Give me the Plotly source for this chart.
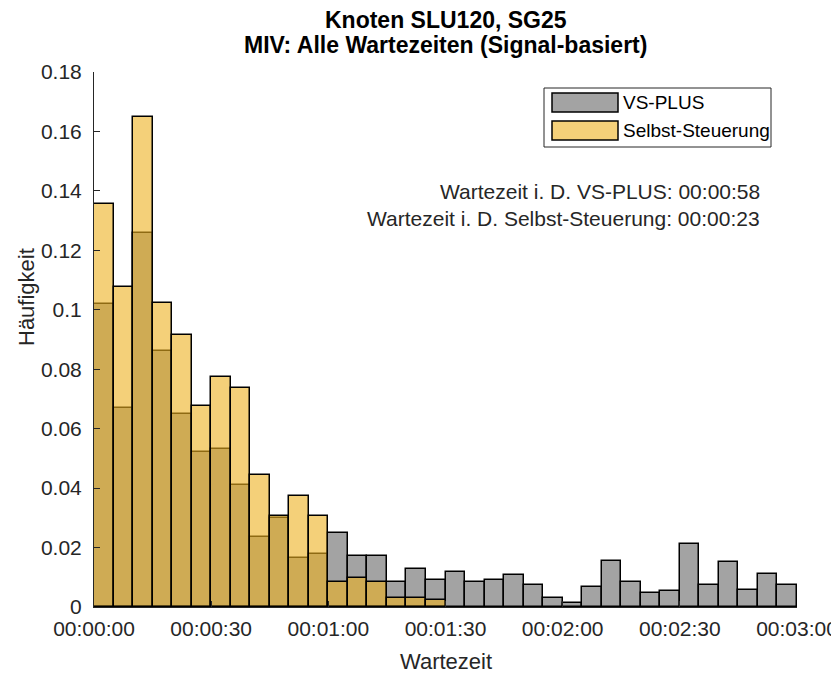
import plotly.graph_objects as go

# ---- data -------------------------------------------------------------
bin_width_s = 5
bin_start_s = list(range(0, 180, 5))  # 36 bins of 5 s

vs_plus = [0.102, 0.067, 0.1257, 0.086, 0.065, 0.052, 0.053, 0.041, 0.0237, 0.030,
           0.0166, 0.0177, 0.025, 0.0172, 0.0172, 0.0085, 0.0128, 0.0091, 0.0118, 0.0085,
           0.0091, 0.0107, 0.0073, 0.0030, 0.0012, 0.0068, 0.0156, 0.0085, 0.0046, 0.0053,
           0.0211, 0.0073, 0.0150, 0.0057, 0.0112, 0.0073]

selbst = [0.1355, 0.1078, 0.1648, 0.1024, 0.0915, 0.0676, 0.0774, 0.0737, 0.0443, 0.0306,
          0.0372, 0.0307, 0.0085, 0.0096, 0.0083, 0.0029, 0.0029, 0.0025, 0, 0,
          0, 0, 0, 0, 0, 0, 0, 0, 0, 0,
          0, 0, 0, 0, 0, 0]

x_tick_vals = [0, 30, 60, 90, 120, 150, 180]
x_tick_text = ["00:00:00", "00:00:30", "00:01:00", "00:01:30", "00:02:00", "00:02:30", "00:03:00"]
y_tick_vals = [0, 0.02, 0.04, 0.06, 0.08, 0.1, 0.12, 0.14, 0.16, 0.18]
y_tick_text = ["0", "0.02", "0.04", "0.06", "0.08", "0.1", "0.12", "0.14", "0.16", "0.18"]

series_names = ["VS-PLUS", "Selbst-Steuerung"]
info_lines = ["Wartezeit i. D. VS-PLUS: 00:00:58",
              "Wartezeit i. D. Selbst-Steuerung: 00:00:23"]
title_lines = ["Knoten SLU120, SG25", "MIV: Alle Wartezeiten (Signal-basiert)"]

# ---- style ------------------------------------------------------------
OFF = 8  # page body margin
W, H = 839 - OFF, 675 - OFF
ML, MT = 94 - OFF, 72 - OFF
PW, PH = 703, 535
MR, MB = W - ML - PW, H - MT - PH
FONT = "Liberation Sans, Arial, sans-serif"
AX = "#262626"
GRAY = "rgba(102,102,102,0.6)"
YELLOW = "rgba(237,177,32,0.6)"
GRAY_SW = "rgb(163,163,163)"
YELLOW_SW = "rgb(244,208,121)"


def px(xp):
    return (xp - 94) / PW


def py(yp):
    return (607 - yp) / PH


centers = [s + bin_width_s / 2 for s in bin_start_s]

fig = go.Figure()
fig.add_trace(go.Bar(x=centers, y=vs_plus, width=bin_width_s, name=series_names[0],
                     marker=dict(color=GRAY, line=dict(color="black", width=1.5)),
                     showlegend=False))
fig.add_trace(go.Bar(x=centers, y=[v if v > 0 else None for v in selbst], width=bin_width_s,
                     name=series_names[1],
                     marker=dict(color=YELLOW, line=dict(color="black", width=1.5)),
                     showlegend=False))

annotations = []
# titles
annotations.append(dict(text="<b>%s</b>" % title_lines[0], x=0.5, y=py(19.8), xref="paper", yref="paper",
                        xanchor="center", yanchor="middle", showarrow=False,
                        font=dict(family=FONT, size=23, color="black")))
annotations.append(dict(text="<b>%s</b>" % title_lines[1], x=0.5, y=py(45), xref="paper", yref="paper",
                        xanchor="center", yanchor="middle", showarrow=False,
                        font=dict(family=FONT, size=23, color="black")))
# info text
for i, (t, yc) in enumerate(zip(info_lines, [191, 219])):
    annotations.append(dict(text=t, x=px(762), y=py(yc), xref="paper", yref="paper",
                            xanchor="right", yanchor="middle", showarrow=False,
                            font=dict(family=FONT, size=21, color=AX)))
# axis labels
annotations.append(dict(text="Wartezeit", x=0.5, y=py(661), xref="paper", yref="paper",
                        xanchor="center", yanchor="middle", showarrow=False,
                        font=dict(family=FONT, size=22, color=AX)))
annotations.append(dict(text="Häufigkeit", x=px(26), y=py(297), xref="paper", yref="paper",
                        xanchor="center", yanchor="middle", showarrow=False, textangle=-90,
                        font=dict(family=FONT, size=22, color=AX)))

shapes = []
# legend box
shapes.append(dict(type="rect", xref="paper", yref="paper", x0=px(544), x1=px(771), y0=py(147), y1=py(88),
                   line=dict(color=AX, width=1), fillcolor="white", layer="above"))
for i, (col, yc) in enumerate(zip([GRAY_SW, YELLOW_SW], [102.5, 130.5])):
    shapes.append(dict(type="rect", xref="paper", yref="paper", x0=px(552), x1=px(618),
                       y0=py(yc + 9.5), y1=py(yc - 9.5), line=dict(color="black", width=1.5),
                       fillcolor=col, layer="above"))
    annotations.append(dict(text=series_names[i], x=px(621), y=py(yc), xref="paper", yref="paper",
                            xanchor="left", yanchor="middle", showarrow=False,
                            font=dict(family=FONT, size=19, color="black")))

fig.update_layout(
    width=W, height=H,
    margin=dict(l=ML, r=MR, t=MT, b=MB, autoexpand=False),
    paper_bgcolor="white", plot_bgcolor="white",
    barmode="overlay", bargap=0,
    showlegend=False,
    annotations=annotations, shapes=shapes,
    font=dict(family=FONT, size=21, color=AX),
)
fig.update_xaxes(range=[0, 180], tickvals=x_tick_vals, ticktext=x_tick_text,
                 showgrid=False, zeroline=False, showline=True, linecolor=AX, linewidth=1,
                 ticks="inside", ticklen=6, tickcolor=AX, tickwidth=1,
                 tickfont=dict(family=FONT, size=21, color=AX), ticklabelstandoff=3)
fig.update_yaxes(range=[0, 0.18], tickvals=y_tick_vals, ticktext=y_tick_text,
                 showgrid=False, zeroline=False, showline=True, linecolor=AX, linewidth=1,
                 ticks="inside", ticklen=6, tickcolor=AX, tickwidth=1,
                 tickfont=dict(family=FONT, size=21, color=AX), ticklabelstandoff=7)

fig.write_html("out.html")
